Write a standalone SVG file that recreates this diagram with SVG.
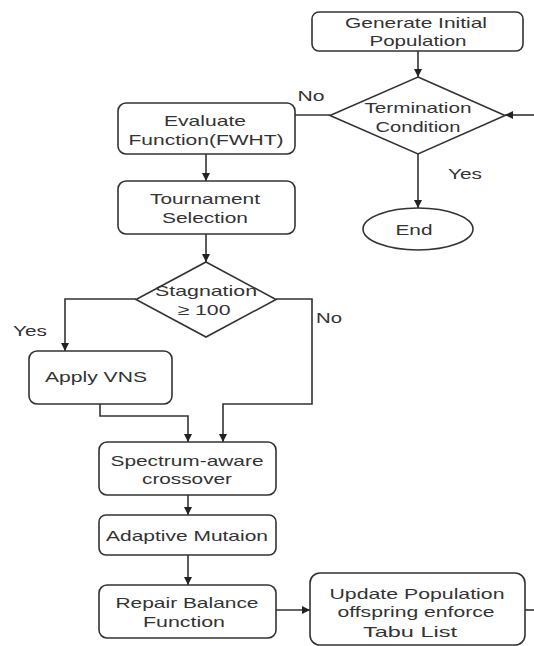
<svg xmlns="http://www.w3.org/2000/svg" width="534" height="646" viewBox="0 0 534 646">
<style>
.box{fill:#fff;stroke:#333;stroke-width:1.6}
.ln{fill:none;stroke:#333;stroke-width:1.6}
text{font-family:"Liberation Sans",Arial,sans-serif;font-size:15px;fill:#333;text-anchor:middle}
</style>
<defs>
<marker id="ah" viewBox="0 0 10 10" refX="10" refY="5" markerWidth="8" markerHeight="8" markerUnits="userSpaceOnUse" orient="auto">
<path d="M0,0 L10,5 L0,10 z" fill="#222"/>
</marker>
</defs>
<rect width="534" height="646" fill="#fff"/>
<g id="connectors">
<path class="ln" d="M418,51 V77" marker-end="url(#ah)"/>
<path class="ln" d="M330,115 H295"/>
<path class="ln" d="M418,154 V208" marker-end="url(#ah)"/>
<path class="ln" d="M534,115 H505" marker-end="url(#ah)"/>
<path class="ln" d="M206,154 V181" marker-end="url(#ah)"/>
<path class="ln" d="M206,234 V262" marker-end="url(#ah)"/>
<path class="ln" d="M136,299 H65 V351" marker-end="url(#ah)"/>
<path class="ln" d="M276,299 H312 V404 H223 V442" marker-end="url(#ah)"/>
<path class="ln" d="M100,404 V416 H188 V442" marker-end="url(#ah)"/>
<path class="ln" d="M188,495 V515" marker-end="url(#ah)"/>
<path class="ln" d="M188,555 V585" marker-end="url(#ah)"/>
<path class="ln" d="M276,610 H310" marker-end="url(#ah)"/>
<path class="ln" d="M525,610 H534"/>
<text x="311" y="101" textLength="27" lengthAdjust="spacingAndGlyphs">No</text>
<text x="465" y="179" textLength="34" lengthAdjust="spacingAndGlyphs">Yes</text>
<text x="30" y="336" textLength="34" lengthAdjust="spacingAndGlyphs">Yes</text>
<text x="329" y="323" textLength="26" lengthAdjust="spacingAndGlyphs">No</text>
</g>
<g id="generate">
<rect class="box" x="312" y="12" width="211" height="39" rx="7"/>
<text x="416" y="28" textLength="142" lengthAdjust="spacingAndGlyphs">Generate Initial</text>
<text x="418" y="46" textLength="97" lengthAdjust="spacingAndGlyphs">Population</text>
</g>
<g id="termination">
<polygon class="box" points="418,77 505,115.5 418,154 330,115.5"/>
<text x="418" y="113" textLength="107" lengthAdjust="spacingAndGlyphs">Termination</text>
<text x="418" y="132" textLength="85" lengthAdjust="spacingAndGlyphs">Condition</text>
</g>
<g id="end">
<ellipse class="box" cx="418" cy="229" rx="55" ry="21"/>
<text x="414" y="235" textLength="37" lengthAdjust="spacingAndGlyphs">End</text>
</g>
<g id="evaluate">
<rect class="box" x="118" y="103" width="177" height="51" rx="8"/>
<text x="205" y="126" textLength="82" lengthAdjust="spacingAndGlyphs">Evaluate</text>
<text x="206" y="145" textLength="155" lengthAdjust="spacingAndGlyphs">Function(FWHT)</text>
</g>
<g id="tournament">
<rect class="box" x="118" y="181" width="177" height="53" rx="8"/>
<text x="205" y="204" textLength="110" lengthAdjust="spacingAndGlyphs">Tournament</text>
<text x="205" y="223" textLength="86" lengthAdjust="spacingAndGlyphs">Selection</text>
</g>
<g id="stagnation">
<polygon class="box" points="206,262 276,299.5 206,337 136,299.5"/>
<text x="206" y="296" textLength="102" lengthAdjust="spacingAndGlyphs">Stagnation</text>
<text x="204" y="315" textLength="53" lengthAdjust="spacingAndGlyphs">≥ 100</text>
</g>
<g id="vns">
<rect class="box" x="29" y="351" width="143" height="53" rx="8"/>
<text x="96" y="382" textLength="102" lengthAdjust="spacingAndGlyphs">Apply VNS</text>
</g>
<g id="crossover">
<rect class="box" x="99" y="442" width="177" height="53" rx="8"/>
<text x="187" y="466" textLength="153" lengthAdjust="spacingAndGlyphs">Spectrum-aware</text>
<text x="187" y="484" textLength="90" lengthAdjust="spacingAndGlyphs">crossover</text>
</g>
<g id="mutation">
<rect class="box" x="99" y="515" width="177" height="40" rx="7"/>
<text x="187" y="541" textLength="162" lengthAdjust="spacingAndGlyphs">Adaptive Mutaion</text>
</g>
<g id="repair">
<rect class="box" x="99" y="585" width="177" height="53" rx="8"/>
<text x="187" y="608" textLength="143" lengthAdjust="spacingAndGlyphs">Repair Balance</text>
<text x="184" y="627" textLength="82" lengthAdjust="spacingAndGlyphs">Function</text>
</g>
<g id="update">
<rect class="box" x="310" y="573" width="215" height="72" rx="10"/>
<text x="417" y="599" textLength="175" lengthAdjust="spacingAndGlyphs">Update Population</text>
<text x="416" y="617" textLength="157" lengthAdjust="spacingAndGlyphs">offspring enforce</text>
<text x="410" y="637" textLength="94" lengthAdjust="spacingAndGlyphs">Tabu List</text>
</g>
</svg>
